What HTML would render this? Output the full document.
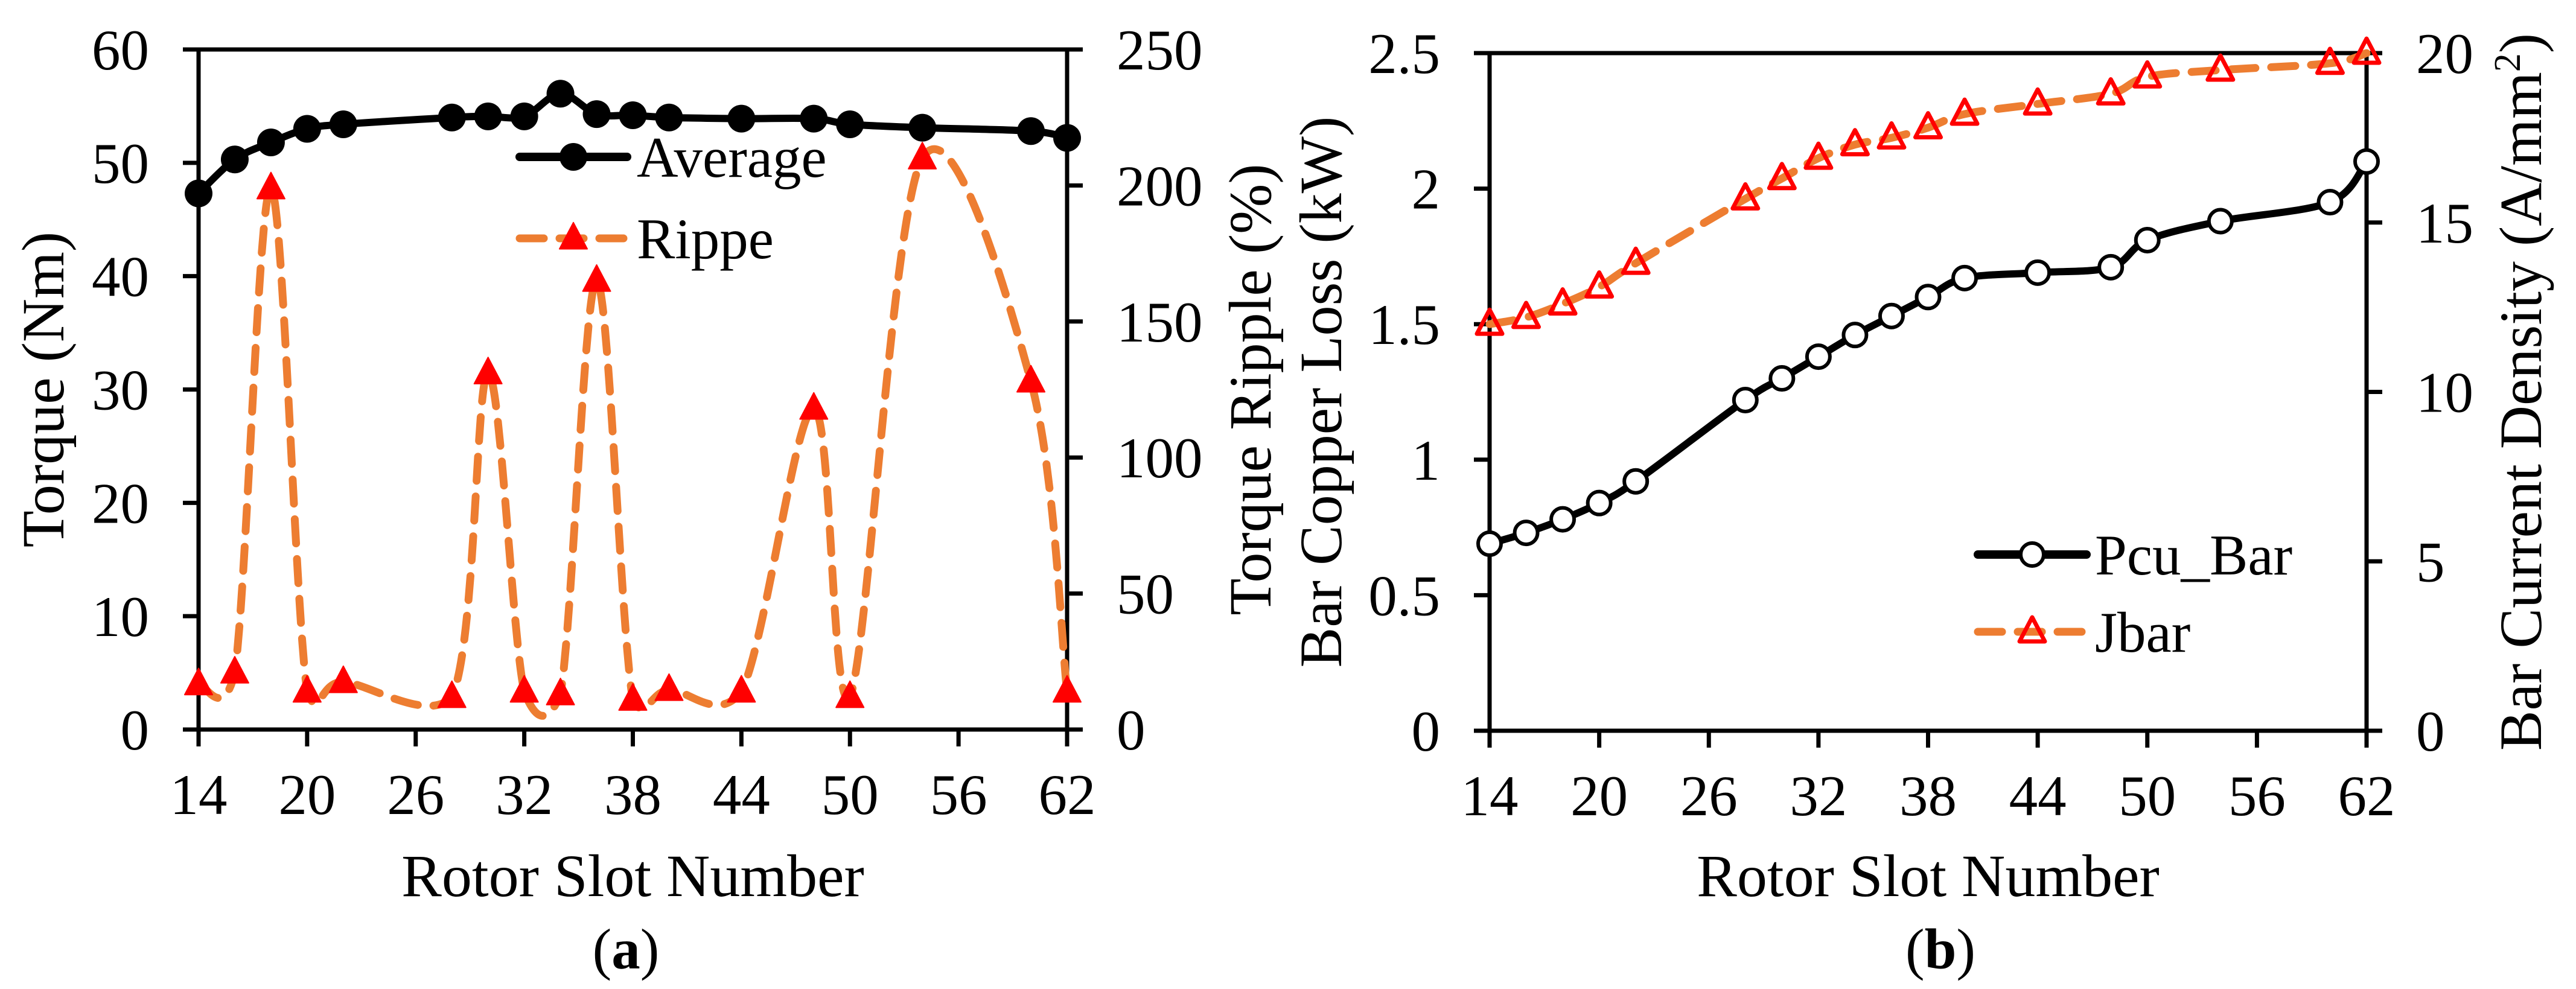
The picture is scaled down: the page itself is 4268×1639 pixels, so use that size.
<!DOCTYPE html>
<html><head><meta charset="utf-8"><style>
html,body{margin:0;padding:0;background:#fff;}
svg{display:block;}
text{font-family:"Liberation Serif","Times New Roman",serif;}
</style></head><body>
<svg id="fig" width="4268" height="1639" viewBox="0 0 4268 1639" xmlns="http://www.w3.org/2000/svg" font-family="Liberation Serif, serif">
<rect width="4268" height="1639" fill="#fff"/>
</svg>
<script>
// ---- data ----
const slots = [14,16,18,20,22,28,30,32,34,36,38,40,44,48,50,54,60,62];
const averageTorque = [47.3,50.3,51.8,53.0,53.4,54.0,54.1,54.1,56.1,54.3,54.2,54.0,53.9,53.9,53.4,53.1,52.8,52.2];
const torqueRipple = [16.7,21,199,14,17.5,12,131,14,13,165,11,14.6,14,118,12,210,128,14];
const pcuBar = [0.69,0.73,0.78,0.84,0.92,1.22,1.30,1.38,1.46,1.53,1.60,1.67,1.69,1.71,1.81,1.88,1.95,2.10];
const jBar = [12.0,12.2,12.6,13.1,13.8,15.7,16.3,16.9,17.3,17.5,17.8,18.2,18.5,18.8,19.3,19.5,19.7,20.0];
const xTicks = [14,20,26,32,38,44,50,56,62];
const leftTicksA = [0,10,20,30,40,50,60];
const rightTicksA = [0,50,100,150,200,250];
const leftTicksB = [0,0.5,1,1.5,2,2.5];
const rightTicksB = [0,5,10,15,20];

const NS = "http://www.w3.org/2000/svg";
const svg = document.getElementById('fig');
function mk(tag, attrs, parent){const e=document.createElementNS(NS,tag);for(const k in attrs)e.setAttribute(k,attrs[k]);(parent||svg).appendChild(e);return e;}
function txt(s, attrs, parent){attrs['font-family']='Liberation Serif, serif';const e=mk('text',attrs,parent);e.textContent=s;return e;}
function spline(pts,ymax){
  let d='M'+pts[0][0]+','+pts[0][1];
  const cl=y=>Math.min(y,ymax);
  for(let i=0;i<pts.length-1;i++){
    const p0=pts[Math.max(0,i-1)],p1=pts[i],p2=pts[i+1],p3=pts[Math.min(pts.length-1,i+2)];
    const t=1/6;
    const c1=[p1[0]+(p2[0]-p0[0])*t,cl(p1[1]+(p2[1]-p0[1])*t)];
    const c2=[p2[0]-(p3[0]-p1[0])*t,cl(p2[1]-(p3[1]-p1[1])*t)];
    d+=' C'+c1[0]+','+c1[1]+' '+c2[0]+','+c2[1]+' '+p2[0]+','+p2[1];
  }
  return d;
}
function tri(g,cx,cy,s,filled){
  const h=s*0.95;
  return mk('polygon',{points:`${cx},${cy-h*0.6} ${cx-s/2},${cy+h*0.4} ${cx+s/2},${cy+h*0.4}`,
    fill:filled?'#ff0000':'none',stroke:'#ff0000','stroke-width':filled?2:7,'stroke-linejoin':'round'},g);
}

function panel(cfg){
  const g=mk('g',{});
  
  
  const X=v=>cfg.x0+(v-14)/48*(cfg.x1-cfg.x0);
  const YL=v=>cfg.yb-(v/cfg.lmax)*(cfg.yb-cfg.yt);
  const YR=v=>cfg.yb-(v/cfg.rmax)*(cfg.yb-cfg.yt);
  const ax={stroke:'#000','stroke-width':7};
  const la=mk('line',Object.assign({x1:cfg.x0,y1:cfg.yt,x2:cfg.x0,y2:cfg.yb},ax),g);
  
  const ra=mk('line',Object.assign({x1:cfg.x1,y1:cfg.yt,x2:cfg.x1,y2:cfg.yb},ax),g);
  
  const xa=mk('line',Object.assign({x1:cfg.x0-26,y1:cfg.yb,x2:cfg.x1+26,y2:cfg.yb},ax),g);
  
  mk('line',Object.assign({x1:cfg.x0-26,y1:cfg.yt,x2:cfg.x1+26,y2:cfg.yt},ax),g);
  const fs=95;
  xTicks.forEach(v=>{
    mk('line',Object.assign({x1:X(v),y1:cfg.yb,x2:X(v),y2:cfg.yb+28},ax),g);
    const t=txt(String(v),{x:X(v),y:cfg.yb+140,'font-size':fs,'text-anchor':'middle'},g);
    
  });
  cfg.lt.forEach(v=>{
    mk('line',Object.assign({x1:cfg.x0-26,y1:YL(v),x2:cfg.x0,y2:YL(v)},ax),g);
    const t=txt(String(v),{x:cfg.x0-82,y:YL(v)+33,'font-size':fs,'text-anchor':'end'},g);
    
  });
  cfg.rt.forEach(v=>{
    mk('line',Object.assign({x1:cfg.x1,y1:YR(v),x2:cfg.x1+26,y2:YR(v)},ax),g);
    const t=txt(String(v),{x:cfg.x1+82,y:YR(v)+33,'font-size':fs,'text-anchor':'start'},g);
    
  });
  const xt=txt('Rotor Slot Number',{x:(cfg.x0+cfg.x1)/2,y:1485,'font-size':100,'text-anchor':'middle'},g);
  
  const lt=txt(cfg.ltitle,{x:0,y:0,'font-size':100,'text-anchor':'middle',transform:`translate(${cfg.ltx},${(cfg.yt+cfg.yb)/2}) rotate(-90)`},g);
  
  const rtt=txt('',{x:0,y:0,'font-size':100,'text-anchor':'middle',transform:`translate(${cfg.rtx},${(cfg.yt+cfg.yb)/2}) rotate(-90)`},g);
  rtt.innerHTML=cfg.rtitle;
  
  const cap=txt('',{x:cfg.capx,y:1605,'font-size':95,'text-anchor':'middle'},g);
  cap.innerHTML=cfg.cap;
  
  const p1=slots.map((s,i)=>[X(s),YL(cfg.s1[i])]);
  const p2=slots.map((s,i)=>[X(s),YR(cfg.s2[i])]);
  const l2=mk('path',{d:spline(p2,cfg.yb-10),fill:'none',stroke:'#ed7d31','stroke-width':13,'stroke-dasharray':'40 26','stroke-linecap':'round'},g);
  
  const l1=mk('path',{d:spline(p1,cfg.yb-10),fill:'none',stroke:'#000','stroke-width':12,'stroke-linecap':'round'},g);
  
  p1.forEach(p=>{
    const c=mk('circle',{cx:p[0],cy:p[1],r:cfg.filled?23:19,fill:cfg.filled?'#000':'#fff',stroke:'#000','stroke-width':cfg.filled?0:6},g);
    
  });
  p2.forEach(p=>{
    const t=tri(g,p[0],p[1],cfg.filled?46:42,cfg.filled);
    
  });
  const lg=mk('g',{},g);
  
  const L=cfg.leg;
  mk('line',{x1:L.x1,y1:L.y1,x2:L.x2,y2:L.y1,stroke:'#000','stroke-width':14,'stroke-linecap':'round'},lg);
  mk('circle',{cx:(L.x1+L.x2)/2,cy:L.y1,r:cfg.filled?23:19,fill:cfg.filled?'#000':'#fff',stroke:'#000','stroke-width':cfg.filled?0:6},lg);
  const e1=txt(cfg.n1,{x:L.tx,y:L.y1+33,'font-size':95},lg);
  
  mk('line',{x1:L.x1,y1:L.y2,x2:L.x2,y2:L.y2,stroke:'#ed7d31','stroke-width':13,'stroke-dasharray':'40 26','stroke-linecap':'round'},lg);
  tri(lg,(L.x1+L.x2)/2,L.y2,cfg.filled?46:42,cfg.filled);
  const e2=txt(cfg.n2,{x:L.tx,y:L.y2+33,'font-size':95},lg);
  
}

panel({name:'panel-a-torque-chart',x0:329,x1:1768,yt:82,yb:1209,lmax:60,rmax:250,lt:leftTicksA,rt:rightTicksA,
  s1:averageTorque,s2:torqueRipple,filled:true,ltitle:'Torque (Nm)',rtitle:'Torque Ripple (%)',ltx:105,rtx:2105,
  cap:'(<tspan font-weight="bold">a</tspan>)',capx:1037,n1:'Average',n2:'Rippe',
  leg:{x1:861,x2:1039,y1:260,y2:395,tx:1055}});
panel({name:'panel-b-copper-loss-chart',x0:2468,x1:3921,yt:88,yb:1211,lmax:2.5,rmax:20,lt:leftTicksB,rt:rightTicksB,
  s1:pcuBar,s2:jBar,filled:false,ltitle:'Bar Copper Loss (kW)',rtitle:'Bar Current Density (A/mm<tspan dy="-35" font-size="62">2</tspan><tspan dy="35">)</tspan>',ltx:2222,rtx:4210,
  cap:'(<tspan font-weight="bold">b</tspan>)',capx:3215,n1:'Pcu_Bar',n2:'Jbar',
  leg:{x1:3277,x2:3457,y1:919,y2:1047,tx:3471}});
</script>
</body></html>
